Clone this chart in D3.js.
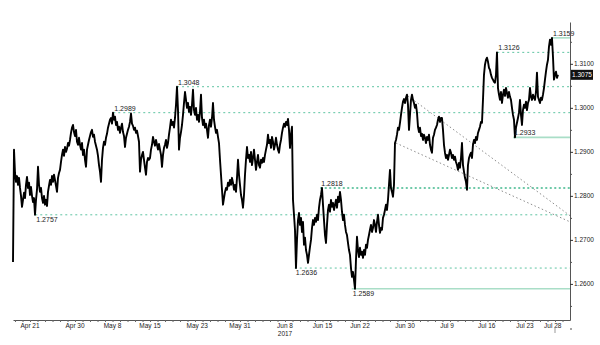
<!DOCTYPE html>
<html>
<head>
<meta charset="utf-8">
<script src="https://cdn.jsdelivr.net/npm/d3@7"></script>
<style>
  body { margin: 0; background: #fff; }
  text { font-family: "Liberation Sans", Arial, sans-serif; }
</style>
</head>
<body>
<div id="chart"></div>
<script>
// GBP/USD intraday, x in trading days counted from Apr 21 2017
const seriesStartDay = -2.27;
const seriesStep = 2 / 15;   // one reading every 2/15 of a trading day
const price = [
  1.2650,1.2905,1.2852,1.2832,1.2845,1.2825,1.2841,1.2818,1.2800,1.2775,1.2791,1.2807,1.2795,1.2825,1.2843,1.2818,1.2830,1.2802,1.2820,1.2800,
  1.2786,1.2795,1.2757,1.2791,1.2814,1.2866,1.2825,1.2809,1.2818,1.2795,1.2784,1.2800,1.2780,1.2791,1.2777,1.2809,1.2823,1.2836,1.2825,1.2845,
  1.2832,1.2848,1.2836,1.2823,1.2809,1.2841,1.2852,1.2859,1.2877,1.2893,1.2905,1.2891,1.2911,1.2900,1.2907,1.2920,1.2914,1.2927,1.2943,1.2955,
  1.2961,1.2945,1.2936,1.2950,1.2923,1.2916,1.2932,1.2916,1.2905,1.2920,1.2893,1.2905,1.2882,1.2866,1.2905,1.2916,1.2927,1.2936,1.2945,1.2950,
  1.2934,1.2939,1.2923,1.2914,1.2905,1.2891,1.2870,1.2855,1.2832,1.2882,1.2909,1.2923,1.2916,1.2932,1.2941,1.2955,1.2964,1.2973,1.2977,1.2964,
  1.2989,1.2973,1.2980,1.2961,1.2968,1.2950,1.2957,1.2943,1.2955,1.2964,1.2945,1.2936,1.2911,1.2932,1.2941,1.2950,1.2957,1.2968,1.2987,1.2964,
  1.2959,1.2950,1.2955,1.2943,1.2948,1.2936,1.2923,1.2855,1.2882,1.2893,1.2900,1.2882,1.2864,1.2848,1.2877,1.2886,1.2882,1.2886,1.2905,1.2916,
  1.2934,1.2923,1.2914,1.2927,1.2916,1.2905,1.2918,1.2905,1.2893,1.2866,1.2893,1.2909,1.2916,1.2927,1.2909,1.2920,1.2939,1.2955,1.2973,1.2961,
  1.2968,1.2955,1.2977,1.3007,1.3048,1.2995,1.2905,1.2932,1.2945,1.2961,1.2984,1.3011,1.3036,1.3018,1.3000,1.3011,1.2991,1.3002,1.2984,1.3007,
  1.3041,1.2995,1.2984,1.3000,1.2973,1.2984,1.2968,1.2991,1.3030,1.2977,1.2961,1.2973,1.2955,1.2964,1.2950,1.2932,1.2961,1.2973,1.2957,1.2977,
  1.3011,1.2973,1.2957,1.2943,1.2950,1.2934,1.2920,1.2882,1.2848,1.2814,1.2780,1.2795,1.2809,1.2818,1.2814,1.2830,1.2823,1.2836,1.2825,1.2841,
  1.2830,1.2814,1.2825,1.2809,1.2841,1.2882,1.2848,1.2825,1.2802,1.2791,1.2773,1.2802,1.2848,1.2882,1.2911,1.2886,1.2893,1.2877,1.2900,1.2870,
  1.2886,1.2905,1.2882,1.2859,1.2877,1.2893,1.2870,1.2864,1.2882,1.2875,1.2886,1.2877,1.2893,1.2905,1.2916,1.2939,1.2920,1.2927,1.2909,1.2934,
  1.2923,1.2905,1.2916,1.2932,1.2916,1.2905,1.2898,1.2916,1.2927,1.2943,1.2955,1.2964,1.2957,1.2968,1.2961,1.2975,1.2950,1.2909,1.2939,1.2957,
  1.2791,1.2757,1.2723,1.2636,1.2700,1.2745,1.2761,1.2734,1.2750,1.2718,1.2741,1.2689,1.2705,1.2677,1.2666,1.2648,1.2666,1.2684,1.2700,1.2727,
  1.2745,1.2734,1.2750,1.2741,1.2757,1.2745,1.2773,1.2791,1.2802,1.2818,1.2780,1.2745,1.2711,1.2693,1.2734,1.2768,1.2780,1.2764,1.2791,1.2775,
  1.2784,1.2768,1.2780,1.2791,1.2773,1.2798,1.2786,1.2809,1.2791,1.2764,1.2745,1.2757,1.2734,1.2718,1.2711,1.2693,1.2677,1.2666,1.2636,1.2616,
  1.2627,1.2609,1.2589,1.2655,1.2707,1.2677,1.2661,1.2682,1.2666,1.2673,1.2659,1.2677,1.2666,1.2689,1.2682,1.2700,1.2711,1.2723,1.2734,1.2718,
  1.2727,1.2745,1.2734,1.2718,1.2741,1.2757,1.2734,1.2716,1.2727,1.2723,1.2750,1.2757,1.2768,1.2780,1.2768,1.2791,1.2825,1.2859,1.2818,1.2809,
  1.2798,1.2825,1.2920,1.2927,1.2939,1.2955,1.2950,1.2966,1.2984,1.3000,1.3014,1.3020,1.3011,1.3023,1.3030,1.3007,1.2950,1.2984,1.3018,1.3030,
  1.3018,1.3011,1.3000,1.3007,1.2989,1.2957,1.2945,1.2955,1.2936,1.2941,1.2927,1.2939,1.2932,1.2920,1.2934,1.2927,1.2939,1.2916,1.2905,1.2898,
  1.2932,1.2939,1.2950,1.2955,1.2961,1.2973,1.2980,1.2968,1.2977,1.2977,1.2950,1.2916,1.2898,1.2886,1.2893,1.2882,1.2893,1.2905,1.2898,1.2886,
  1.2893,1.2882,1.2889,1.2877,1.2870,1.2859,1.2875,1.2864,1.2886,1.2920,1.2870,1.2855,1.2841,1.2832,1.2814,1.2870,1.2886,1.2893,1.2898,1.2886,
  1.2916,1.2927,1.2920,1.2934,1.2927,1.2943,1.2950,1.2957,1.2968,1.2966,1.3018,1.3075,1.3098,1.3109,1.3114,1.3105,1.3091,1.3086,1.3075,1.3068,
  1.3064,1.3059,1.3057,1.3075,1.3126,1.3045,1.3030,1.3018,1.3036,1.3011,1.3030,1.3041,1.3027,1.3045,1.3034,1.3023,1.3036,1.3025,1.3018,1.3000,
  1.2984,1.2973,1.2933,1.2955,1.2966,1.2977,1.2989,1.3018,1.2984,1.2961,1.2995,1.3007,1.3000,1.3014,1.2995,1.3011,1.3018,1.3045,1.3025,1.3018,
  1.3030,1.3023,1.3018,1.3036,1.3080,1.3025,1.3018,1.3011,1.3023,1.3018,1.3030,1.3045,1.3064,1.3082,1.3098,1.3109,1.3139,1.3155,1.3143,1.3159,
  1.3116,1.3064,1.3075,1.3082,1.3068,1.3075
];

// support / resistance levels: [value, start day, style, label side]
const levels = [
  [1.3159, 69.6, "solid", "above"],
  [1.3126, 62.3, "dash", "above"],
  [1.3048, 19.6, "dash", "above"],
  [1.2989, 11.1, "dash", "above"],
  [1.2933, 64.4, "solid", "above"],
  [1.2818, 38.7, "dot", "above"],
  [1.2757, 0.7, "dash", "below"],
  [1.2636, 35.3, "dash", "below"],
  [1.2589, 42.9, "solid", "below"]
];

// falling trend lines: [start day, start value, end day, end value]
const trendLines = [
  [50.4, 1.3027, 72, 1.2755],
  [48.8, 1.2920, 72, 1.2741]
];

const yTicks = [1.26, 1.27, 1.28, 1.29, 1.30, 1.31];
const yMinorTicks = [1.255, 1.265, 1.275, 1.285, 1.295, 1.305, 1.315];
const xLabels = ["Apr 21", "Apr 30", "May 8", "May 15", "May 23", "May 31", "Jun 8", "Jun 15", "Jun 22", "Jun 30", "Jul 9", "Jul 16", "Jul 23", "Jul 28"];
const xLabelDays = [0, 6, 11, 16, 22.3, 28, 34, 39, 44, 50, 55.6, 60.9, 66, 69.7];
const lastPrice = 1.3075;

const width = 600, height = 345;
const svg = d3.select("#chart").append("svg")
    .attr("width", width)
    .attr("height", height);

const x = d3.scaleLinear().domain([-2.27, 72]).range([13, 570]);
const y = d3.scaleLinear().domain([1.2518, 1.3195]).range([320, 22]);

const levelColor = { dash: "#5fc4a2", dot: "#3fb88c", solid: "#a9dec7" };

// level lines
levels.forEach(([v, d0, style, side]) => {
    const line = svg.append("line")
        .attr("x1", x(d0)).attr("x2", x(72))
        .attr("y1", y(v)).attr("y2", y(v))
        .attr("stroke", levelColor[style]);
    if (style === "dash") line.attr("stroke-width", 1).attr("stroke-dasharray", "2,3");
    if (style === "dot") line.attr("stroke-width", 1.6).attr("stroke-dasharray", "2,2.5");
    if (style === "solid") line.attr("stroke-width", 1.6);
});

// trend lines
trendLines.forEach(([d0, v0, d1, v1]) => {
    svg.append("line")
        .attr("x1", x(d0)).attr("y1", y(v0))
        .attr("x2", x(d1)).attr("y2", y(v1))
        .attr("stroke", "#8c8c8c")
        .attr("stroke-width", 1)
        .attr("stroke-dasharray", "1.5,2.5");
});

// price line
const line = d3.line()
    .x((d, i) => x(seriesStartDay + i * seriesStep))
    .y(d => y(d));

svg.append("path")
    .datum(price)
    .attr("d", line)
    .attr("fill", "none")
    .attr("stroke", "#000")
    .attr("stroke-width", 1.9)
    .attr("stroke-linejoin", "round");

// level labels
levels.forEach(([v, d0, style, side]) => {
    svg.append("text")
        .attr("x", x(d0) + 1)
        .attr("y", side === "above" ? y(v) - 2 : y(v) + 7)
        .attr("font-size", "7px")
        .attr("fill", "#222")
        .text(d3.format(".4f")(v));
});

// right axis
const yAxis = svg.append("g")
    .attr("transform", `translate(${x(72)},0)`)
    .call(d3.axisRight(y).tickValues(yTicks).tickSize(3).tickSizeOuter(0).tickFormat(d3.format(".4f")));
yAxis.select(".domain").attr("stroke", "#555");
yAxis.selectAll(".tick line").attr("stroke", "#333");
yAxis.selectAll(".tick text").attr("font-size", "6.5px").attr("fill", "#222").attr("x", 4)
    .attr("font-family", "Liberation Sans, Arial, sans-serif");

svg.append("g")
    .attr("transform", `translate(${x(72)},0)`)
    .call(d3.axisRight(y).tickValues(yMinorTicks).tickSize(2).tickFormat(""))
    .call(g => g.select(".domain").remove())
    .selectAll("line").attr("stroke", "#555");

// bottom axis with one tick per trading day
const dayTicks = d3.range(-2, 72);
const xAxis = svg.append("g")
    .attr("transform", `translate(0,${y(1.2518)})`)
    .call(d3.axisBottom(x).tickValues(dayTicks).tickSize(2).tickSizeOuter(0).tickFormat(""));
xAxis.select(".domain").attr("stroke", "#555");
xAxis.selectAll(".tick line").attr("stroke", "#666");

xLabels.forEach((lab, i) => {
    svg.append("text")
        .attr("x", x(xLabelDays[i]))
        .attr("y", 328)
        .attr("text-anchor", "middle")
        .attr("font-size", "6.5px")
        .attr("fill", "#222")
        .text(lab);
});
svg.append("text")
    .attr("x", x(34))
    .attr("y", 336)
    .attr("text-anchor", "middle")
    .attr("font-size", "6.5px")
    .attr("fill", "#222")
    .text("2017");

// marker for the last session
svg.append("line")
    .attr("x1", x(70)).attr("x2", x(70))
    .attr("y1", 327).attr("y2", 333)
    .attr("stroke", "#999");
svg.append("circle")
    .attr("cx", x(72) + 1).attr("cy", 329).attr("r", 0.8).attr("fill", "#333");

// last price tag
svg.append("rect")
    .attr("x", x(72) + 1).attr("y", y(lastPrice) - 5)
    .attr("width", 22).attr("height", 10)
    .attr("fill", "#111");
svg.append("text")
    .attr("x", x(72) + 12).attr("y", y(lastPrice) + 2.3)
    .attr("text-anchor", "middle")
    .attr("font-size", "6.5px")
    .attr("fill", "#fff")
    .text(d3.format(".4f")(lastPrice));
</script>
</body>
</html>
